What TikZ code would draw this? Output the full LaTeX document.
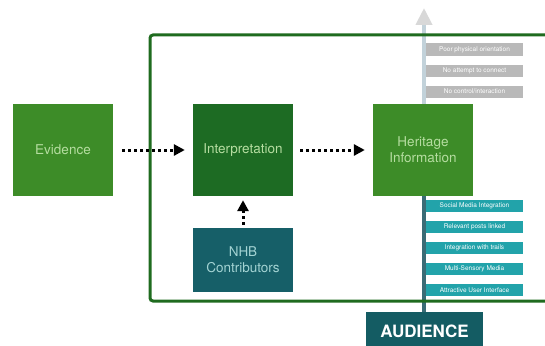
\documentclass[tikz,border=0pt]{standalone}
\usepackage{fontspec}
\setmainfont{TeX Gyre Heros}
\usetikzlibrary{arrows.meta}
\definecolor{framegreen}{HTML}{1F6B1F}
\definecolor{leafgreen}{HTML}{3D8C28}
\definecolor{darkgreen}{HTML}{1D6B23}
\definecolor{nhbteal}{HTML}{165F68}
\definecolor{audteal}{HTML}{145C63}
\definecolor{tagteal}{HTML}{22A3AA}
\definecolor{taggray}{HTML}{B9B9B9}
\definecolor{spinedark}{RGB}{58,108,118}
\definecolor{spinelight}{RGB}{194,210,218}
\definecolor{tipgray}{HTML}{D8D8D8}
\definecolor{greentext}{HTML}{B5DDA0}
\definecolor{tealtext}{HTML}{A3D3D3}

\begin{document}
\begin{tikzpicture}[x=1pt, y=-1pt,
        box/.style={minimum width=100pt, minimum height=92pt, inner sep=0pt,
            align=center, font=\fontsize{13.5}{16}\selectfont},
        tag/.style={minimum width=97pt, minimum height=12pt, inner sep=0pt,
            text=white, font=\fontsize{6.5}{7}\selectfont},
        flow/.style={line width=3pt, dash pattern=on 3pt off 3pt,
            -{Triangle[width=11pt,length=11pt]}}]
            \useasboundingbox (0,0) rectangle (545,345);

            % the boxes
            \node[box, fill=leafgreen, text=greentext] (evidence) at (63,150) {Evidence};
            \node[box, fill=darkgreen, text=greentext] (interp) at (243,150) {Interpretation};
            \node[box, fill=leafgreen, text=greentext] (heritage) at (423,150) {Heritage\\Information};
            \node[box, fill=nhbteal, text=tealtext, minimum height=64pt] (nhb) at (243,260) {NHB\\Contributors};
            \node[fill=audteal, text=white, minimum width=117pt, minimum height=38pt,
                font=\bfseries\fontsize{17}{17}\selectfont] (audience) at (424.5,331) {AUDIENCE};

            % the spine
            \coordinate (top) at (424,8);
            \coordinate (bottom) at (424,312);
            \draw[line width=4pt, draw=spinedark] (bottom) -- (heritage.south -| top);
            \draw[line width=4pt, draw=spinelight, -{Triangle[width=16pt,length=17pt,color=tipgray]}]
                (heritage.north -| top) -- (top);

            % the frame
            \draw[framegreen, line width=3pt, rounded corners=3pt] (150,35) rectangle (570,301);

            % labels
            \foreach \txt [count=\i] in {Poor physical orientation, No attempt to connect,
                    No control/interaction}
                \node[tag, fill=taggray] (gray\i) at (474.5, {28.5+21*\i}) {\txt};
            \foreach \txt [count=\i] in {Social Media Integration, Relevant posts linked,
                    Integration with trails, Multi-Sensory Media, Attractive User Interface}
                \node[tag, fill=tagteal] (teal\i) at (474.5, {185+21*\i}) {\txt};

            % arrows
            \draw[flow, shorten <=9pt, shorten >=8pt] (evidence) -- (interp);
            \draw[flow, shorten <=7pt, shorten >=8pt] (interp) -- (heritage);
            \draw[flow, shorten <=3pt, shorten >=4pt] (nhb) -- (interp);
        \end{tikzpicture}
\end{document}
